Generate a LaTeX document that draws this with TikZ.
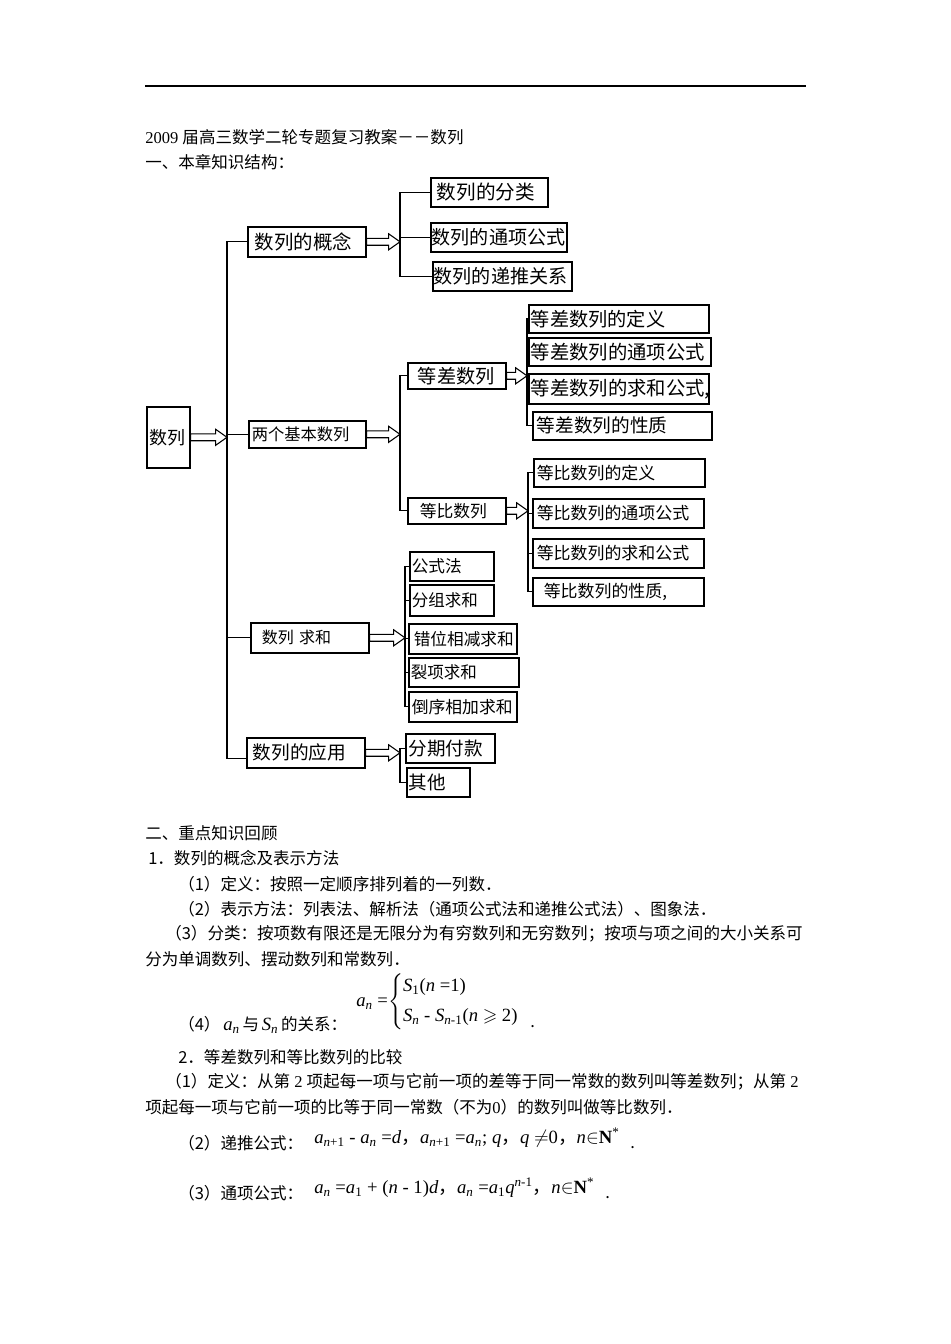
\documentclass[tikz,border=0pt]{standalone}
\usepackage{fontspec}
\usepackage{amssymb}
\setmainfont{Liberation Serif}
\newfontfamily\cjk{Noto Sans CJK SC}
\usetikzlibrary{calc}
\tikzset{
  bx/.style={draw, line width=1.2pt, rectangle, inner ysep=0pt, align=left},
  ln/.style={line width=0.9pt},
  txt/.style={anchor=west, inner sep=0pt, font=\cjk\fontsize{12.4}{14}\selectfont},
  fml/.style={anchor=west, inner sep=0pt, font=\rmfamily\fontsize{14}{16}\selectfont},
  arr/.style={line width=0.8pt, fill=white},
}
\newcommand\blockarrow[2]{\draw[arr] let \p1=(#1), \p2=(#2) in
  (\x1,\y1+2.6pt) -- (\x2-8.5pt,\y1+2.6pt) -- (\x2-8.5pt,\y1+6pt) -- (\x2,\y1) --
  (\x2-8.5pt,\y1-6pt) -- (\x2-8.5pt,\y1-2.6pt) -- (\x1,\y1-2.6pt) -- cycle;}
\newcommand\mkbox[8]{%
  \pgfmathsetmacro\bw{(#4-#2-2*#6)*0.75}%
  \pgfmathsetmacro\bh{(#5-#3)*0.75}%
  \pgfmathsetmacro\bp{#6*0.75}%
  \node[bx, anchor=north west, text width=\bw pt, minimum height=\bh pt, inner xsep=\bp pt,
        font=\cjk\fontsize{#7}{#7}\selectfont] (#1) at (#2,#3) {\mbox{#8}};}
\newcommand\vv[1]{\textit{#1}}
\newcommand\sbs[1]{\textsubscript{\textit{#1}}}
\begin{document}
\begin{tikzpicture}[x=0.75pt,y=-0.75pt]
\fill[white] (0,0) rectangle (950,1344);
\useasboundingbox (0,0) rectangle (950,1344);
\draw[line width=0.9pt] (145,86) -- (806,86);
\node[txt] (title) at (145,137) {{\rmfamily 2009 }届高三数学二轮专题复习教案－－数列};
\node[txt] (sec1) at (145,162) {一、本章知识结构：};
% boxes
\mkbox{sl}{146}{406}{189}{467}{3}{13.5}{数列}
\mkbox{gn}{247}{226}{365}{256}{7}{14.6}{数列的概念}
\mkbox{ly}{248}{420}{365}{447}{3}{12.2}{两个基本数列}
\mkbox{qh}{250}{622}{368}{652}{11}{12}{数列 求和}
\mkbox{yy}{246}{737}{364}{767}{6}{14}{数列的应用}
\mkbox{fl}{430}{177}{547}{206}{6}{14.7}{数列的分类}
\mkbox{tx}{430}{222}{566}{251}{1}{14.3}{数列的通项公式}
\mkbox{dt}{432}{261}{571}{290}{1}{14.3}{数列的递推关系}
\mkbox{dc}{407}{362}{505}{388}{10}{14.4}{等差数列}
\mkbox{db}{407}{497}{505}{523}{12}{12.6}{等比数列}
\mkbox{ca}{528}{304}{708}{332}{2}{14.4}{等差数列的定义}
\mkbox{cb}{528}{337}{710}{365}{2}{14.5}{等差数列的通项公式}
\mkbox{cc}{528}{373}{708}{403}{2}{14.5}{等差数列的求和公式,}
\mkbox{cd}{532}{411}{711}{439}{4}{14}{等差数列的性质}
\mkbox{ba}{533}{458}{704}{486}{3}{12.7}{等比数列的定义}
\mkbox{bb}{532}{498}{703}{527}{4}{12.7}{等比数列的通项公式}
\mkbox{bc}{532}{538}{703}{567}{4}{12.7}{等比数列的求和公式}
\mkbox{bd}{532}{577}{703}{605}{11}{12.7}{等比数列的性质,}
\mkbox{qa}{409}{551}{493}{580}{2}{12.5}{公式法}
\mkbox{qb}{409}{584}{493}{615}{2}{12.4}{分组求和}
\mkbox{qc}{408}{623}{516}{653}{5}{12.5}{错位相减求和}
\mkbox{qd}{408}{657}{518}{686}{2}{12.4}{裂项求和}
\mkbox{qe}{408}{691}{516}{721}{3}{12.6}{倒序相加求和}
\mkbox{ya}{405}{733}{494}{762}{3}{13.9}{分期付款}
\mkbox{yb}{406}{767}{469}{796}{2}{13.9}{其他}
% junctions
\coordinate (t0) at (227,433);
\coordinate (c1) at (400,240);
\coordinate (c2) at (400,433);
\coordinate (c3) at (527,375);
\coordinate (c4) at (528,512);
\coordinate (c5) at (405,637);
\coordinate (c6) at (400,751);
% trunk
\draw[ln] (gn.west) -| (t0);
\draw[ln] (t0) |- (ly.west);
\draw[ln] (t0) |- (qh.west);
\draw[ln] (t0) |- ([yshift=-4pt]yy.west);
% branches
\draw[ln] (fl.west) -| (c1) |- (dt.west);
\draw[ln] (c1) |- (tx.west);
\draw[ln] (dc.west) -| (c2) |- (db.west);
\draw[ln] (ca.west) -| (c3) |- (cd.west);
\draw[ln] (c3) |- (cb.west);
\draw[ln] (c3) |- (cc.west);
\draw[ln] (ba.west) -| (c4) |- (bd.west);
\draw[ln] (c4) |- (bb.west);
\draw[ln] (c4) |- (bc.west);
\draw[ln] (qa.west) -| (c5) |- (qe.west);
\draw[ln] (c5) |- (qb.west);
\draw[ln] (c5) |- (qc.west);
\draw[ln] (c5) |- (qd.west);
\draw[ln] (ya.west) -| (c6) |- (yb.west);
% arrows
\blockarrow{sl.east}{t0}
\blockarrow{gn.east}{c1}
\blockarrow{ly.east}{c2}
\blockarrow{dc.east}{c3}
\blockarrow{db.east}{c4}
\blockarrow{qh.east}{c5}
\blockarrow{yy.east}{c6}
% text
\node[txt] (s2) at (145,833) {二、重点知识回顾};
\node[txt] (p1) at (148,858) {1．数列的概念及表示方法};
\node[txt] (p11) at (178,884) {（1）定义：按照一定顺序排列着的一列数．};
\node[txt] (p12) at (178,909) {（2）表示方法：列表法、解析法（通项公式法和递推公式法）、图象法．};
\node[txt] (p13) at (165,934) {（3）分类：按项数有限还是无限分为有穷数列和无穷数列；按项与项之间的大小关系可};
\node[txt] (p13b) at (145,959) {分为单调数列、摆动数列和常数列．};
\node[txt] (p14) at (178,1025) {（4）\,{\rmfamily\fontsize{14}{16}\selectfont\vv{a}\sbs{n}}\,与\,{\rmfamily\fontsize{14}{16}\selectfont\vv{S}\sbs{n}}\,的关系：};
\node[fml] (f1) at (356,1002) {\vv{a}\sbs{n} =$\left\{\begin{array}{@{}l@{}}\mbox{\vv{S}\textsubscript{1}(\vv{n} =1)}\\[6.5pt]\mbox{\vv{S}\sbs{n} - \vv{S}\textsubscript{\vv{n}-1}(\vv{n} $\geqslant$ 2)}\end{array}\right.$};
\node[txt] (d1) at (530,1027) {.};
\node[txt] (p2) at (178,1057) {2．等差数列和等比数列的比较};
\node[txt] (p21) at (165,1082) {（1）定义：从第{\rmfamily\ 2 }项起每一项与它前一项的差等于同一常数的数列叫等差数列；从第{\rmfamily\ 2}};
\node[txt] (p21b) at (145,1107) {项起每一项与它前一项的比等于同一常数（不为{\rmfamily 0}）的数列叫做等比数列．};
\node[txt] (p22) at (178,1143) {（2）递推公式：};
\node[fml] (f2) at (314,1138) {\vv{a}\textsubscript{\vv{n}+1} - \vv{a}\sbs{n} =\vv{d}{\cjk ，}\vv{a}\textsubscript{\vv{n}+1} =\vv{a}\sbs{n}; \vv{q}{\cjk ，}\vv{q} $\neq$0{\cjk ，}\vv{n}$\in$\textbf{N}\textsuperscript{*}};
\node[txt] (d2) at (630,1148) {.};
\node[txt] (p23) at (178,1193) {（3）通项公式：};
\node[fml] (f3) at (314,1188) {\vv{a}\sbs{n} =\vv{a}\textsubscript{1} + (\vv{n} - 1)\vv{d}{\cjk ，}\vv{a}\sbs{n} =\vv{a}\textsubscript{1}\vv{q}\textsuperscript{\vv{n}-1}{\cjk ，}\vv{n}$\in$\textbf{N}\textsuperscript{*}};
\node[txt] (d3) at (605,1198) {.};
\end{tikzpicture}
\end{document}
